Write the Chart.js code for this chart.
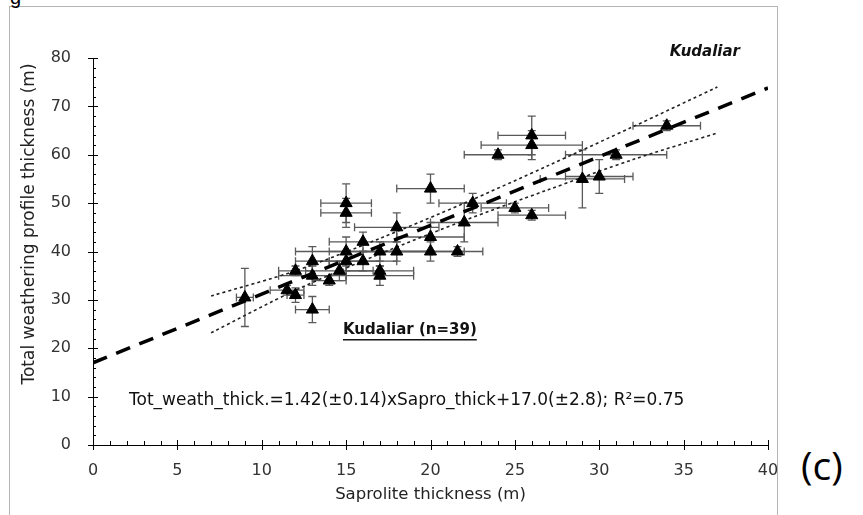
<!DOCTYPE html>
<html lang="en">
<head>
<meta charset="utf-8">
<script src="https://cdn.jsdelivr.net/npm/chart.js@4.4.1/dist/chart.umd.min.js"></script>
<style>
    body { margin: 0; background: #fff; }
    #wrap { position: relative; width: 863px; height: 515px; overflow: hidden; }
    #frame {
        position: absolute; left: 9px; top: 6px; width: 769px; height: 520px;
        border: 1px solid #b5b5b5; box-sizing: border-box;
    }
    #figTag { position: absolute; left: 10px; top: -14px; font: 20px "Liberation Sans", Arial, sans-serif; color: #000; }
    #panel { position: absolute; left: 801px; top: 438px; font: 39px "Open Sans", "Noto Sans", sans-serif; color: #000; }
    canvas { position: absolute; left: 0; top: 0; }
</style>
</head>
<body>
<div id="wrap">
    <div id="frame"></div>
    <div id="figTag">g</div>
    <div id="panel">(c)</div>
    <canvas id="myChart" width="863" height="515"></canvas>
</div>
<script>
// saprolite thickness (x) and total weathering profile thickness (y), Kudaliar
var sapro = [9, 11.5, 12, 12, 13, 13, 13, 14, 14.6, 15, 15, 15, 15, 16, 16, 17, 17, 17,
             18, 18, 20, 20, 20, 21.6, 22, 22.5, 24, 25, 26, 26, 26, 29, 30, 31, 34];
var totWeath = [30.5, 32, 31, 36, 28, 35, 38, 34, 36, 50, 48, 40, 38, 42, 38, 40, 36, 35,
                45, 40, 53, 43, 40, 40, 46, 50, 60, 49, 64, 62, 47.5, 55, 55.5, 60, 66];
var saproErr = [0.5, 1, 0.5, 1, 1, 2, 1, 1, 2, 1.5, 1.5, 3, 2, 2, 2, 3, 2, 2,
                2.5, 2, 2, 2, 2, 1.5, 2, 2, 2, 2, 2, 3, 2, 2.5, 2, 3, 2];
var weathErr = [6, 1, 1.5, 1, 2.7, 2, 3, 1, 2, 4, 3, 3, 2, 2, 2, 2, 1, 2,
                3, 2, 3, 3, 2, 1, 4, 2, 1, 1, 4, 3, 1, 6, 3.5, 1, 1];

// regression line and confidence band
var fitX = [0, 40];
var fitY = [17.0, 73.8];
var bandX = [7, 12, 17, 22, 27, 32, 37];
var bandUpper = [30.8, 36.0, 42.7, 50.0, 57.8, 65.8, 74.0];
var bandLower = [23.2, 32.0, 39.5, 46.4, 52.8, 59.0, 64.5];

var xTicks = [0, 5, 10, 15, 20, 25, 30, 35, 40];
var yTicks = [0, 10, 20, 30, 40, 50, 60, 70, 80];

function pts(xs, ys) {
    return xs.map(function (x, i) { return { x: x, y: ys[i] }; });
}

var FONT = '"DejaVu Sans", Verdana, sans-serif';

var errorBars = {
    id: 'errorBars',
    beforeDatasetsDraw: function (chart) {
        var ctx = chart.ctx, xs = chart.scales.x, ys = chart.scales.y;
        ctx.save();
        ctx.strokeStyle = '#5a5a5a';
        ctx.lineWidth = 1.3;
        for (var i = 0; i < sapro.length; i++) {
            var px = xs.getPixelForValue(sapro[i]), py = ys.getPixelForValue(totWeath[i]);
            var x1 = xs.getPixelForValue(sapro[i] - saproErr[i]), x2 = xs.getPixelForValue(sapro[i] + saproErr[i]);
            var y1 = ys.getPixelForValue(totWeath[i] - weathErr[i]), y2 = ys.getPixelForValue(totWeath[i] + weathErr[i]);
            ctx.beginPath();
            ctx.moveTo(x1, py); ctx.lineTo(x2, py);
            ctx.moveTo(x1, py - 4); ctx.lineTo(x1, py + 4);
            ctx.moveTo(x2, py - 4); ctx.lineTo(x2, py + 4);
            ctx.moveTo(px, y1); ctx.lineTo(px, y2);
            ctx.moveTo(px - 4, y1); ctx.lineTo(px + 4, y1);
            ctx.moveTo(px - 4, y2); ctx.lineTo(px + 4, y2);
            ctx.stroke();
        }
        ctx.restore();
    }
};

var axisTicks = {
    id: 'axisTicks',
    afterDraw: function (chart) {
        var ctx = chart.ctx, xs = chart.scales.x, ys = chart.scales.y, a = chart.chartArea;
        ctx.save();
        ctx.strokeStyle = '#000';
        ctx.lineWidth = 1;
        ctx.beginPath();
        for (var v = 0; v <= 80; v += 2) {
            var y = Math.round(ys.getPixelForValue(v)) + 0.5;
            if (v % 10 === 0) { ctx.moveTo(a.left - 5, y); ctx.lineTo(a.left + 5, y); }
            else { ctx.moveTo(a.left, y); ctx.lineTo(a.left + 3, y); }
        }
        for (var u = 0; u <= 40; u += 1) {
            var x = Math.round(xs.getPixelForValue(u)) + 0.5;
            if (u % 5 === 0) { ctx.moveTo(x, a.bottom - 5); ctx.lineTo(x, a.bottom + 5); }
            else { ctx.moveTo(x, a.bottom - 4); ctx.lineTo(x, a.bottom); }
        }
        ctx.stroke();

        // y axis title
        ctx.fillStyle = '#222';
        ctx.font = '17px ' + FONT;
        ctx.save();
        ctx.translate(30, 224);
        ctx.rotate(-Math.PI / 2);
        ctx.textAlign = 'center';
        ctx.textBaseline = 'middle';
        ctx.fillText('Total weathering profile thickness (m)', 0, 0);
        ctx.restore();

        // annotations
        ctx.fillStyle = '#111';
        ctx.textBaseline = 'middle';
        ctx.font = 'italic bold 15px ' + FONT;
        ctx.textAlign = 'right';
        ctx.fillText('Kudaliar', 740, 52);

        ctx.font = 'bold 15px ' + FONT;
        ctx.textAlign = 'left';
        var lbl = 'Kudaliar (n=39)';
        ctx.fillText(lbl, 343, 330);
        var w = ctx.measureText(lbl).width;
        ctx.fillRect(343, 339, w, 1.5);

        ctx.font = '17px ' + FONT;
        ctx.fillText('Tot_weath_thick.=1.42(\u00b10.14)xSapro_thick+17.0(\u00b12.8); R\u00b2=0.75', 129, 401);
        ctx.restore();
    }
};

var ctx = document.getElementById('myChart').getContext('2d');
var chart = new Chart(ctx, {
    type: 'scatter',
    data: {
        datasets: [
            {
                label: 'Kudaliar',
                data: pts(sapro, totWeath),
                pointStyle: 'triangle',
                radius: 7,
                backgroundColor: '#000',
                borderColor: '#000',
                borderWidth: 1
            },
            {
                label: 'fit',
                type: 'line',
                data: pts(fitX, fitY),
                borderColor: '#000',
                borderWidth: 3.5,
                borderDash: [15, 10],
                pointRadius: 0,
                fill: false
            },
            {
                label: 'upper',
                type: 'line',
                data: pts(bandX, bandUpper),
                borderColor: '#222',
                borderWidth: 1.6,
                borderDash: [3, 3],
                pointRadius: 0,
                tension: 0.3,
                fill: false
            },
            {
                label: 'lower',
                type: 'line',
                data: pts(bandX, bandLower),
                borderColor: '#222',
                borderWidth: 1.6,
                borderDash: [3, 3],
                pointRadius: 0,
                tension: 0.3,
                fill: false
            }
        ]
    },
    options: {
        responsive: false,
        animation: false,
        layout: { padding: { left: 0, right: 95, top: 58, bottom: 0 } },
        plugins: { legend: { display: false }, tooltip: { enabled: false } },
        scales: {
            x: {
                type: 'linear', min: 0, max: 40,
                afterBuildTicks: function (s) { s.ticks = xTicks.map(function (v) { return { value: v }; }); },
                afterFit: function (s) { s.height = 70; },
                grid: { display: false },
                border: { display: true, color: '#000', width: 1 },
                ticks: { color: '#333', font: { family: FONT, size: 16 }, padding: 8, maxRotation: 0 },
                title: { display: true, text: 'Saprolite thickness (m)', color: '#222',
                         font: { family: FONT, size: 16.5 }, padding: { top: 0, bottom: 10 } }
            },
            y: {
                type: 'linear', min: 0, max: 80,
                afterBuildTicks: function (s) { s.ticks = yTicks.map(function (v) { return { value: v }; }); },
                afterFit: function (s) { s.width = 93; },
                grid: { display: false },
                border: { display: true, color: '#000', width: 1 },
                ticks: { color: '#333', font: { family: FONT, size: 16 }, padding: 14 }
            }
        }
    },
    plugins: [errorBars, axisTicks]
});
</script>
</body>
</html>
